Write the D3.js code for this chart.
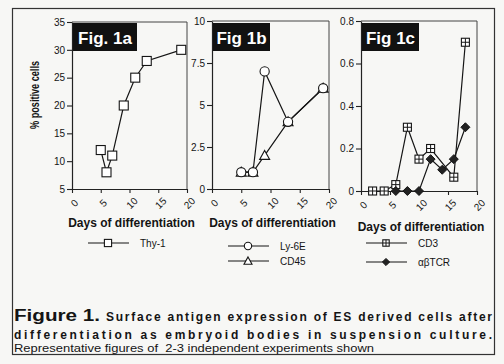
<!DOCTYPE html>
<html><head><meta charset="utf-8">
<script src="https://cdn.jsdelivr.net/npm/d3@7"></script>
<style>
html,body{margin:0;padding:0;background:#f7f7f5;}
svg{display:block;}
text{font-family:"Liberation Sans",Arial,Helvetica,sans-serif;fill:#141414;}
</style></head><body>
<script>
// ---- data ----
const xTicks = [0, 5, 10, 15, 20];
const daysA = [5, 6, 7, 9, 11, 13, 19];
const thy1 = [12, 8, 11, 20, 25, 28, 30];
const yTicksA = [5, 10, 15, 20, 25, 30, 35];

const daysB = [5, 7, 9, 13, 19];
const cd45 = [1, 1, 2, 4, 6];
const ly6e = [1, 1, 7, 4, 6];
const yTicksB = [0, 2.5, 5, 7.5, 10];

const daysCD3 = [2, 4, 6, 8, 10, 12, 16, 18];
const cd3 = [0, 0, 0.03, 0.3, 0.15, 0.2, 0.065, 0.7];
const daysTCR = [6, 8, 10, 12, 14, 16, 18];
const tcr = [0, 0, 0, 0.15, 0.1, 0.15, 0.3];
const yTicksC = [0, 0.2, 0.4, 0.6, 0.8];

const panelTitles = ["Fig. 1a", "Fig 1b", "Fig 1c"];
const xTitle = "Days of differentiation";
const yTitle = "% positive cells";

const W = 504, H = 364;
const svg = d3.select("body").append("svg").attr("width", W).attr("height", H);
svg.append("rect").attr("x",0).attr("y",0).attr("width",W).attr("height",H).attr("fill","#f7f7f5");
// outer frame
svg.append("rect").attr("x",12.5).attr("y",8.5).attr("width",482).attr("height",346)
  .attr("fill","none").attr("stroke","#333").attr("stroke-width",1.2);

const ink = "#151515";

function marker(g, type, x, y, s) {
  s = s || 1;
  if (type === "square") {
    g.append("rect").attr("x", x-4.5*s).attr("y", y-4.5*s).attr("width", 9*s).attr("height", 9*s)
      .attr("fill", "#fff").attr("stroke", ink).attr("stroke-width", 1.1);
  } else if (type === "circle") {
    g.append("circle").attr("cx", x).attr("cy", y).attr("r", 4.6*s)
      .attr("fill", "#fff").attr("stroke", ink).attr("stroke-width", 1.1);
  } else if (type === "triangle") {
    g.append("path").attr("d", `M${x},${y-5*s}L${x+5*s},${y+4*s}L${x-5*s},${y+4*s}Z`)
      .attr("fill", "#fff").attr("stroke", ink).attr("stroke-width", 1.1);
  } else if (type === "cross") {
    g.append("rect").attr("x", x-4*s).attr("y", y-4*s).attr("width", 8*s).attr("height", 8*s)
      .attr("fill", "#fff").attr("stroke", ink).attr("stroke-width", 1.1);
    g.append("path").attr("d", `M${x-4*s},${y}H${x+4*s}M${x},${y-4*s}V${y+4*s}`)
      .attr("stroke", ink).attr("stroke-width", 1);
  } else if (type === "diamond") {
    g.append("path").attr("d", `M${x},${y-4.5*s}L${x+4.5*s},${y}L${x},${y+4.5*s}L${x-4.5*s},${y}Z`)
      .attr("fill", "#222").attr("stroke", ink).attr("stroke-width", 1);
  }
}

function panel(cfg) {
  const x = d3.scaleLinear().domain([0, 20]).range([cfg.l, cfg.r]);
  const y = d3.scaleLinear().domain(cfg.yDomain).range([cfg.b, cfg.t]);
  const g = svg.append("g");
  // frame top/right
  g.append("path").attr("d", `M${cfg.l},${cfg.t}H${cfg.r}V${cfg.b}`)
    .attr("fill", "none").attr("stroke", "#444").attr("stroke-width", 1);
  // axes
  const ya = g.append("g").attr("transform", `translate(${cfg.l},0)`)
    .call(d3.axisLeft(y).tickValues(cfg.yTicks).tickSize(5).tickSizeOuter(0).tickPadding(2)
      .tickFormat(d => String(d)));
  ya.selectAll("text").attr("font-size", 10).attr("fill", "#222")
    .style("font-family", '"Liberation Sans",Arial,sans-serif');
  const xa = g.append("g").attr("transform", `translate(0,${cfg.b})`)
    .call(d3.axisBottom(x).tickValues(xTicks).tickSize(4).tickSizeOuter(0).tickFormat(d => String(d)));
  xa.selectAll("text").attr("font-size", 10).attr("fill", "#222")
    .attr("text-anchor", "middle").attr("dy", null).attr("y", null)
    .attr("transform", "translate(2,14) rotate(-45)").attr("dominant-baseline", "central")
    .style("font-family", '"Liberation Sans",Arial,sans-serif');
  g.selectAll(".domain").attr("stroke", "#222").attr("stroke-width", 1.2);
  g.selectAll(".tick line").attr("stroke", "#222").attr("stroke-width", 1.1);
  // title box
  g.append("rect").attr("x", cfg.l + 1).attr("y", 23).attr("width", cfg.boxW).attr("height", 28).attr("fill", "#111");
  g.append("text").attr("x", cfg.l + 1 + cfg.boxW / 2).attr("y", 44).attr("text-anchor", "middle")
    .attr("font-size", 17).attr("font-weight", "bold").style("fill", "#fff").text(cfg.title);
  // x title
  g.append("text").attr("x", (cfg.l + cfg.r) / 2 + 2).attr("y", cfg.xtY).attr("text-anchor", "middle")
    .attr("font-size", 12).attr("font-weight", "bold").text(xTitle);
  // series
  const line = d3.line().x(d => x(d[0])).y(d => y(d[1]));
  cfg.series.forEach(s => {
    const pts = s.days.map((d, i) => [d, s.vals[i]]);
    g.append("path").attr("d", line(pts)).attr("fill", "none").attr("stroke", ink).attr("stroke-width", 1.2);
  });
  cfg.series.forEach(s => {
    s.days.forEach((d, i) => marker(g, s.type, x(d), y(s.vals[i])));
  });
  return g;
}

panel({l: 72, r: 187, t: 22, b: 189, yDomain: [5, 35], yTicks: yTicksA, title: panelTitles[0], boxW: 64, xtY: 227,
  series: [{days: daysA, vals: thy1, type: "square"}]});
panel({l: 212, r: 329, t: 21, b: 189, yDomain: [0, 10], yTicks: yTicksB, title: panelTitles[1], boxW: 57, xtY: 227,
  series: [{days: daysB, vals: cd45, type: "triangle"}, {days: daysB, vals: ly6e, type: "circle"}]});
panel({l: 361, r: 477, t: 21, b: 191, yDomain: [0, 0.8], yTicks: yTicksC, title: panelTitles[2], boxW: 57, xtY: 231,
  series: [{days: daysCD3, vals: cd3, type: "cross"}, {days: daysTCR, vals: tcr, type: "diamond"}]});

// y title
svg.append("text").attr("transform", "translate(39,95) rotate(-90)").attr("text-anchor", "middle")
  .attr("font-size", 12).attr("font-weight", "bold").attr("textLength", 68).attr("lengthAdjust", "spacingAndGlyphs")
  .text(yTitle);

// legend
const legend = [
  {name: "Thy-1", type: "square", x: 88, y: 243},
  {name: "Ly-6E", type: "circle", x: 228, y: 246},
  {name: "CD45", type: "triangle", x: 228, y: 261},
  {name: "CD3", type: "cross", x: 366, y: 243},
  {name: "\u03b1\u03b2TCR", type: "diamond", x: 366, y: 262}
];
legend.forEach(L => {
  const g = svg.append("g");
  g.append("line").attr("x1", L.x).attr("x2", L.x + 41).attr("y1", L.y).attr("y2", L.y)
    .attr("stroke", ink).attr("stroke-width", 1.1);
  marker(g, L.type, L.x + 20, L.y, 0.8);
  g.append("text").attr("x", L.x + 52).attr("y", L.y).attr("dy", "0.35em")
    .attr("font-size", 10).text(L.name);
});

// caption
const cap1a = "Figure 1.";
const cap1b = "Surface antigen expression of ES derived cells after";
const cap2 = "differentiation as embryoid bodies in suspension culture.";
const cap3 = "Representative figures of  2-3 independent experiments shown";
svg.append("text").attr("x", 14).attr("y", 321).attr("font-size", 16).attr("font-weight", "bold")
  .attr("textLength", 86).attr("lengthAdjust", "spacingAndGlyphs").text(cap1a);
svg.append("text").attr("x", 106).attr("y", 321).attr("font-size", 12).attr("font-weight", "bold")
  .attr("textLength", 386).attr("lengthAdjust", "spacing").text(cap1b);
svg.append("text").attr("x", 14).attr("y", 339).attr("font-size", 12).attr("font-weight", "bold")
  .attr("textLength", 478).attr("lengthAdjust", "spacing").text(cap2);
svg.append("text").attr("x", 14).attr("y", 352).attr("font-size", 11)
  .attr("textLength", 360).attr("lengthAdjust", "spacingAndGlyphs").style("white-space", "pre").text(cap3);
</script>
</body></html>
